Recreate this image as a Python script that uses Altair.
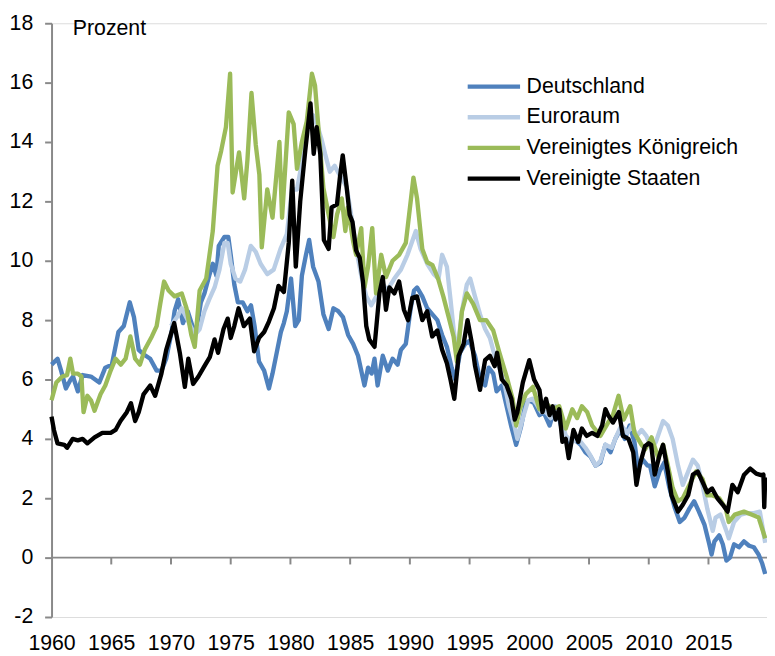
import altair as alt
import pandas as pd

series_names = ["Deutschland", "Euroraum", "Vereinigtes Königreich", "Vereinigte Staaten"]
series_colors = ["#4f81bd", "#b9cde5", "#9bbb59", "#000000"]
series_widths = [4.4, 4.4, 4.4, 4.9]

de_years = [1960.0, 1960.5, 1960.8, 1961.2, 1961.6, 1961.8, 1962.2, 1962.6, 1963.3, 1964.0,
            1964.5, 1965.05, 1965.6, 1966.05, 1966.55, 1966.9, 1967.3, 1967.7, 1968.26, 1968.8,
            1969.2, 1969.6, 1970.05, 1970.3, 1970.6, 1971.0, 1971.4, 1971.8, 1972.1, 1972.5,
            1972.8, 1973.2, 1973.5, 1973.8, 1974.0, 1974.47, 1974.8, 1975.0, 1975.3, 1975.6,
            1976.0, 1976.4, 1976.7, 1977.0, 1977.37, 1977.8, 1978.2, 1978.5, 1978.9, 1979.2,
            1979.45, 1979.7, 1980.05, 1980.4, 1980.7, 1980.96, 1981.3, 1981.57, 1981.9, 1982.35,
            1982.76, 1983.2, 1983.6, 1984.0, 1984.4, 1984.83, 1985.25, 1985.66, 1986.2, 1986.5,
            1986.8, 1987.04, 1987.3, 1987.73, 1988.15, 1988.55, 1988.97, 1989.25, 1989.66, 1990.07,
            1990.35, 1990.6, 1991.04, 1991.45, 1991.87, 1992.3, 1992.7, 1993.1, 1993.5, 1993.8,
            1994.2, 1994.63, 1995.0, 1995.45, 1995.87, 1996.3, 1996.6, 1996.98, 1997.26, 1997.7,
            1998.1, 1998.5, 1998.9, 1999.3, 1999.7, 2000.0, 2000.4, 2000.85, 2001.2, 2001.7,
            2002.1, 2002.5, 2002.9, 2003.3, 2003.7, 2004.3, 2004.7, 2005.13, 2005.55, 2005.95,
            2006.37, 2006.8, 2007.2, 2007.6, 2008.0, 2008.4, 2008.8, 2009.1, 2009.5, 2009.9,
            2010.1, 2010.5, 2010.9, 2011.3, 2011.7, 2012.16, 2012.6, 2013.0, 2013.4, 2013.8,
            2014.2, 2014.67, 2015.07, 2015.26, 2015.5, 2015.9, 2016.2, 2016.5, 2016.8, 2017.14,
            2017.55, 2017.97, 2018.4, 2018.8, 2019.2, 2019.5, 2019.75]
de_values = [6.5, 6.7, 6.3, 5.7, 6.0, 6.1, 5.6, 6.15, 6.1, 5.9,
             6.4, 6.5, 7.6, 7.8, 8.6, 8.1, 7.0, 6.85, 6.7, 6.3,
             6.3, 6.7, 7.6, 8.3, 8.7, 7.9, 8.3, 7.8, 7.6, 8.6,
             8.9, 9.5, 9.9, 9.5, 10.5, 10.8, 10.8, 10.2, 9.2, 8.6,
             8.6, 8.3, 8.5, 7.8, 6.6, 6.3, 5.7, 6.2, 7.0, 7.6,
             7.9, 8.3, 9.4, 7.8, 8.0, 9.5, 10.2, 10.7, 9.8, 9.3,
             8.2, 7.7, 8.4, 8.3, 8.1, 7.5, 7.2, 6.8, 5.8, 6.4,
             6.2, 6.7, 5.8, 6.8, 6.3, 6.7, 6.5, 7.0, 7.2, 8.4,
             9.0, 9.1, 8.8, 8.4, 8.2, 8.0, 7.5, 7.1, 6.4, 6.0,
             6.9, 7.2, 7.3, 6.8, 6.0, 5.8, 6.4, 6.2, 5.6, 5.8,
             5.1, 4.4, 3.8, 4.4, 5.2, 5.3, 5.2, 4.8, 4.9, 4.45,
             5.0, 4.7, 4.0, 3.9, 4.0, 3.8, 3.55, 3.4, 3.1, 3.2,
             3.8, 3.55, 4.0, 4.3, 4.0, 4.45, 3.9, 3.0, 3.3, 3.1,
             3.1, 2.4, 2.9, 3.2, 2.4, 1.7, 1.2, 1.35, 1.65, 1.9,
             1.55, 1.1, 0.45, 0.1, 0.55, 0.75, 0.45, -0.1, 0.0, 0.45,
             0.35, 0.55, 0.4, 0.35, 0.1, -0.2, -0.55]

ea_years = [1970.0, 1970.5, 1970.9, 1971.4, 1972.0, 1972.4, 1972.8, 1973.2, 1973.65, 1974.06,
            1974.47, 1974.75, 1975.0, 1975.4, 1975.8, 1976.2, 1976.68, 1977.1, 1977.5, 1978.06,
            1978.6, 1979.17, 1979.7, 1980.13, 1980.55, 1980.96, 1981.37, 1981.9, 1982.3, 1982.6,
            1982.9, 1983.3, 1983.7, 1984.1, 1984.7, 1985.1, 1985.5, 1985.93, 1986.35, 1986.76,
            1987.2, 1987.6, 1988.1, 1988.7, 1989.25, 1989.8, 1990.5, 1990.9, 1991.45, 1992.0,
            1992.4, 1992.7, 1993.1, 1993.4, 1993.66, 1993.94, 1994.36, 1994.77, 1995.05, 1995.45,
            1995.87, 1996.3, 1996.7, 1997.1, 1997.5, 1997.95, 1998.3, 1998.78, 1999.0, 1999.46,
            1999.9, 2000.25, 2000.55, 2001.0, 2001.4, 2001.8, 2002.2, 2002.6, 2003.05, 2003.6,
            2004.1, 2004.7, 2005.1, 2005.55, 2005.95, 2006.37, 2006.9, 2007.3, 2007.7, 2008.2,
            2008.6, 2009.0, 2009.4, 2009.8, 2010.2, 2010.6, 2011.2, 2011.6, 2012.0, 2012.45,
            2012.85, 2013.3, 2013.7, 2014.1, 2014.5, 2014.9, 2015.36, 2015.6, 2016.0, 2016.5,
            2016.7, 2017.14, 2017.7, 2018.2, 2018.8, 2019.3, 2019.75]
ea_values = [7.8, 8.1, 8.4, 8.0, 7.5, 7.7, 8.3, 8.7, 9.1, 9.7,
             10.6, 10.6, 9.9, 9.4, 9.3, 9.7, 10.5, 10.3, 9.9, 9.55,
             9.7, 10.4, 10.9, 12.4, 12.4, 13.3, 14.6, 14.9, 14.5, 14.1,
             13.6, 13.0, 13.2, 12.9, 12.5, 11.5, 10.4, 9.5, 8.8, 8.5,
             8.8, 9.3, 9.0, 9.4, 9.7, 10.2, 11.0, 10.4, 9.9, 9.55,
             9.4, 10.2, 9.8, 8.7, 7.7, 6.8, 8.3, 9.2, 9.4, 8.8,
             8.2, 7.7, 7.4, 6.8, 6.4, 5.8, 5.1, 4.4, 4.0, 4.7,
             5.3, 5.35, 5.2, 4.9, 4.9, 4.7, 5.1, 4.8, 4.1, 3.9,
             4.0, 3.7, 3.45, 3.1, 3.25, 3.8, 3.7, 4.1, 4.45, 4.2,
             4.45, 4.1, 4.3, 4.1, 3.7, 3.9, 4.6, 4.45, 4.0, 3.1,
             2.45, 2.9, 3.3, 3.1, 2.45, 1.65, 0.9, 1.35, 1.45, 0.9,
             0.65, 1.2, 1.45, 1.5, 1.5, 1.55, 0.5]

uk_years = [1960.0, 1960.4, 1960.9, 1961.3, 1961.57, 1961.8, 1962.2, 1962.5, 1962.68, 1963.0,
            1963.3, 1963.6, 1964.1, 1964.5, 1964.95, 1965.36, 1965.8, 1966.2, 1966.6, 1967.0,
            1967.4, 1967.8, 1968.4, 1968.8, 1969.1, 1969.42, 1969.8, 1970.3, 1970.9, 1971.3,
            1971.7, 1971.99, 1972.4, 1972.95, 1973.5, 1973.9, 1974.2, 1974.6, 1974.95, 1975.16,
            1975.4, 1975.7, 1976.13, 1976.4, 1976.74, 1977.1, 1977.4, 1977.6, 1978.06, 1978.5,
            1978.75, 1979.08, 1979.3, 1979.86, 1980.27, 1980.55, 1980.96, 1981.37, 1981.8, 1982.06,
            1982.4, 1982.76, 1983.2, 1983.6, 1983.9, 1984.3, 1984.6, 1984.8, 1985.25, 1985.5,
            1985.93, 1986.2, 1986.5, 1986.85, 1987.17, 1987.6, 1988.0, 1988.55, 1989.1, 1989.66,
            1990.3, 1990.6, 1991.04, 1991.45, 1991.9, 1992.4, 1992.8, 1993.25, 1993.66, 1993.94,
            1994.36, 1994.77, 1995.3, 1995.87, 1996.4, 1996.98, 1997.5, 1998.1, 1998.6, 1998.9,
            1999.2, 1999.7, 2000.3, 2000.85, 2001.4, 2001.95, 2002.5, 2003.05, 2003.6, 2004.0,
            2004.4, 2004.85, 2005.26, 2005.95, 2006.6, 2007.0, 2007.47, 2007.9, 2008.44, 2008.8,
            2009.4, 2009.7, 2010.24, 2010.8, 2011.2, 2011.6, 2012.0, 2012.45, 2012.85, 2013.4,
            2013.96, 2014.5, 2014.9, 2015.3, 2015.9, 2016.45, 2016.7, 2017.2, 2017.97, 2018.6,
            2019.2, 2019.75]
uk_values = [5.3, 5.9, 6.1, 6.15, 6.7, 6.2, 6.2, 6.1, 4.9, 5.45,
             5.3, 4.95, 5.5, 5.8, 6.3, 6.7, 6.5, 6.7, 7.45, 6.7,
             6.5, 7.0, 7.45, 7.8, 8.55, 9.3, 9.0, 8.8, 8.9, 8.4,
             7.5, 7.1, 9.0, 9.4, 11.0, 13.2, 13.7, 14.5, 16.3, 12.3,
             12.9, 13.65, 12.1, 13.4, 15.65, 13.9, 12.9, 10.45, 12.4, 11.45,
             12.55, 14.0, 11.45, 15.0, 14.6, 13.1, 14.0, 14.7, 16.3, 15.9,
             14.2, 12.45, 11.55, 10.8, 11.55, 12.1, 11.0, 11.8, 10.65, 10.2,
             11.1, 9.1, 9.8, 11.1, 8.9, 10.2, 9.45, 10.0, 10.2, 10.6,
             12.8, 12.1, 10.4, 9.95, 9.85, 9.35, 8.8, 8.1, 7.45, 6.6,
             8.3, 8.9, 8.55, 8.0, 8.0, 7.65, 6.9, 6.1, 5.35, 4.45,
             5.0, 5.5, 5.75, 5.0, 5.2, 5.0, 5.1, 4.35, 5.0, 4.7,
             5.1, 4.9, 4.45, 4.1, 4.55, 4.8, 5.45, 4.65, 5.1, 4.2,
             3.8, 3.65, 4.05, 3.35, 3.8, 3.1, 2.35, 1.9, 2.0, 2.45,
             2.9, 2.65, 2.1, 2.1, 2.0, 1.65, 1.2, 1.45, 1.55, 1.45,
             1.35, 0.65]

us_years = [1960.0, 1960.2, 1960.5, 1961.07, 1961.3, 1961.77, 1962.2, 1962.6, 1963.0, 1963.6,
            1964.25, 1964.95, 1965.36, 1965.77, 1966.3, 1966.65, 1967.0, 1967.3, 1967.7, 1968.26,
            1968.67, 1969.2, 1969.6, 1970.05, 1970.27, 1970.74, 1971.16, 1971.45, 1971.85, 1972.3,
            1972.8, 1973.25, 1973.65, 1973.94, 1974.4, 1974.75, 1975.0, 1975.3, 1975.66, 1976.1,
            1976.6, 1976.96, 1977.37, 1977.8, 1978.2, 1978.62, 1979.0, 1979.45, 1979.86, 1980.15,
            1980.45, 1980.82, 1981.24, 1981.68, 1981.95, 1982.2, 1982.5, 1982.8, 1983.2, 1983.45,
            1983.9, 1984.14, 1984.38, 1984.7, 1984.96, 1985.2, 1985.5, 1985.8, 1986.07, 1986.35,
            1986.6, 1987.04, 1987.45, 1987.73, 1988.0, 1988.28, 1988.7, 1989.1, 1989.5, 1989.85,
            1990.2, 1990.6, 1991.04, 1991.45, 1991.87, 1992.3, 1992.7, 1993.1, 1993.4, 1993.72,
            1994.08, 1994.5, 1994.83, 1995.2, 1995.46, 1995.87, 1996.3, 1996.7, 1997.1, 1997.3,
            1997.7, 1998.1, 1998.5, 1998.78, 1999.0, 1999.46, 2000.0, 2000.4, 2000.85, 2001.1,
            2001.4, 2001.7, 2001.95, 2002.2, 2002.5, 2002.77, 2003.05, 2003.3, 2003.7, 2004.1,
            2004.4, 2004.8, 2005.26, 2005.7, 2006.1, 2006.37, 2006.6, 2007.0, 2007.5, 2007.84,
            2008.3, 2008.7, 2008.97, 2009.3, 2009.68, 2010.0, 2010.2, 2010.5, 2010.9, 2011.2,
            2011.6, 2011.9, 2012.45, 2012.85, 2013.3, 2013.7, 2014.1, 2014.5, 2014.9, 2015.3,
            2015.75, 2016.2, 2016.6, 2017.0, 2017.45, 2017.97, 2018.5, 2019.0, 2019.4, 2019.6,
            2019.67, 2019.75]
us_values = [4.75, 4.3, 3.85, 3.8, 3.7, 4.0, 3.95, 4.0, 3.85, 4.05,
             4.2, 4.2, 4.3, 4.6, 4.9, 5.2, 4.6, 4.9, 5.5, 5.8,
             5.45, 6.2, 7.0, 7.6, 7.9, 6.9, 5.75, 6.7, 5.85, 6.1,
             6.45, 6.75, 7.35, 6.9, 7.7, 8.05, 7.4, 7.8, 8.4, 7.8,
             8.05, 6.95, 7.4, 7.6, 7.95, 8.4, 9.15, 8.95, 10.6, 12.7,
             9.8, 12.0, 13.7, 15.3, 13.6, 14.5, 13.6, 10.7, 10.4, 11.8,
             11.9, 12.8, 13.55, 12.5, 11.55, 11.3, 10.35, 10.1, 9.3, 7.8,
             7.35, 7.1, 8.9, 9.45, 8.35, 9.1, 8.9, 9.3, 8.35, 8.0,
             8.75, 8.8, 8.0, 8.3, 7.45, 7.65, 7.0, 6.55, 6.0, 5.35,
             6.8, 7.2, 8.0, 7.2, 6.45, 5.65, 6.65, 6.8, 6.45, 6.9,
             6.0, 5.8, 5.35, 4.65, 4.9, 5.9, 6.65, 6.0, 5.65, 4.9,
             5.35, 4.8, 5.1, 4.65, 5.0, 3.9, 4.0, 3.35, 4.3, 3.9,
             4.35, 4.1, 4.2, 4.1, 4.45, 5.0, 4.8, 4.55, 4.9, 4.1,
             4.0, 3.55, 2.45, 3.2, 3.75, 3.85, 3.8, 2.8, 3.45, 3.8,
             2.9, 2.1, 1.55, 1.78, 2.1, 2.8, 2.9, 2.55, 2.2, 2.33,
             2.0, 1.78, 1.55, 2.45, 2.2, 2.78, 3.0, 2.83, 2.78, 2.8,
             1.7, 2.7]

x_domain = [1960, 2019.9]
y_domain = [-2, 18]
y_ticks = [-2, 0, 2, 4, 6, 8, 10, 12, 14, 16, 18]
x_ticks = [1960, 1965, 1970, 1975, 1980, 1985, 1990, 1995, 2000, 2005, 2010, 2015]
x_tick_depth = [0, -0.23]

font = "Liberation Sans"
font_size = 21.5
axis_color = "#898989"

frames = []
for name, ys, vs in zip(series_names,
                        [de_years, ea_years, uk_years, us_years],
                        [de_values, ea_values, uk_values, us_values]):
    frames.append(pd.DataFrame({"year": ys, "value": vs, "series": name}))
df = pd.concat(frames, ignore_index=True)

x_scale = alt.Scale(domain=x_domain, nice=False, zero=False)
y_scale = alt.Scale(domain=y_domain, nice=False, zero=False)

lines = alt.Chart(df).mark_line(strokeJoin="round", strokeCap="butt").encode(
    x=alt.X("year:Q", scale=x_scale,
            axis=alt.Axis(values=x_ticks, format="d", title=None, domain=False, ticks=False,
                          tickSize=0, grid=False, labelFontSize=font_size, labelFont=font,
                          labelColor="#000000", labelPadding=16, labelFlush=False,
                          labelOverlap=False)),
    y=alt.Y("value:Q", scale=y_scale,
            axis=alt.Axis(values=y_ticks, title="Prozent", grid=False, domainColor=axis_color,
                          domainWidth=2, tickColor=axis_color, tickWidth=2, tickSize=7,
                          labelExpr="replace(datum.label, '\u2212', '-')",
                          labelFontSize=font_size, labelFont=font, labelColor="#000000",
                          labelPadding=12, titleAngle=0, titleAlign="left", titleX=21,
                          titleY=11, titleBaseline="alphabetic", titleFontSize=font_size,
                          titleFont=font, titleFontWeight="normal", titleColor="#000000")),
    color=alt.Color("series:N",
                    scale=alt.Scale(domain=series_names, range=series_colors),
                    sort=series_names,
                    legend=alt.Legend(title=None, orient="none", legendX=434, legendY=51,
                                      symbolType="M-2.52,0H2.52", symbolSize=441,
                                      symbolStrokeWidth=4.6, labelFontSize=font_size,
                                      labelFont=font, labelColor="#000000", labelOffset=20,
                                      rowPadding=7, padding=0, labelLimit=400)),
    strokeWidth=alt.StrokeWidth("series:N",
                                scale=alt.Scale(domain=series_names, range=series_widths),
                                legend=None),
)

zero_df = pd.DataFrame({"year": [x_domain[0]], "year2": [x_domain[1]], "value": [0]})
zero_rule = alt.Chart(zero_df).mark_rule(color=axis_color, strokeWidth=2).encode(
    x=alt.X("year:Q", scale=x_scale), x2="year2:Q", y=alt.Y("value:Q", scale=y_scale))

tick_df = pd.DataFrame({"year": x_ticks[1:], "value": x_tick_depth[0], "value2": x_tick_depth[1]})
tick_rules = alt.Chart(tick_df).mark_rule(color=axis_color, strokeWidth=2).encode(
    x=alt.X("year:Q", scale=x_scale), y=alt.Y("value:Q", scale=y_scale), y2="value2:Q")

chart = alt.layer(zero_rule, tick_rules, lines).properties(
    width=723, height=600,
    autosize=alt.AutoSizeParams(type="none"),
    padding={"left": 44, "top": 12, "right": 0, "bottom": 36},
).configure_view(stroke=None).configure(background="white")

chart.save("out.html", embed_options={"renderer": "svg", "actions": False})
